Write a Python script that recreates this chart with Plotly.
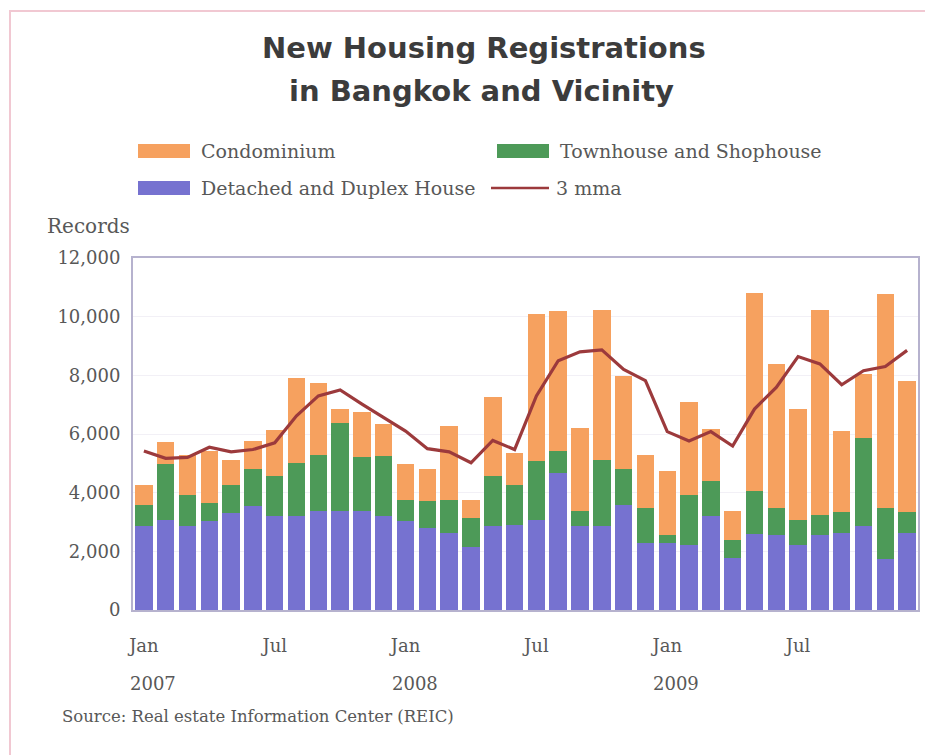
import plotly.graph_objects as go

# ---------------- data ----------------
months = [f"{m} {y}" for y in (2007, 2008, 2009)
          for m in ["Jan", "Feb", "Mar", "Apr", "May", "Jun",
                    "Jul", "Aug", "Sep", "Oct", "Nov", "Dec"]]

detached = [2850, 3070, 2850, 3020, 3300, 3530, 3190, 3190, 3380, 3380, 3380, 3190,
            3020, 2790, 2620, 2160, 2850, 2900, 3070, 4670, 2850, 2850, 3590, 2270,
            2270, 2220, 3190, 1780, 2580, 2560, 2220, 2560, 2620, 2850, 1740, 2620]

townhouse = [740, 1910, 1060, 630, 970, 1260, 1370, 1830, 1920, 3010, 1830, 2060,
             740, 910, 1140, 990, 1710, 1370, 2000, 750, 510, 2280, 1220, 1200,
             290, 1690, 1220, 610, 1470, 910, 850, 690, 720, 3020, 1730, 720]

condominium = [680, 750, 1390, 1770, 860, 970, 1570, 2890, 2430, 460, 1550, 1100,
               1220, 1110, 2510, 610, 2710, 1090, 5010, 4760, 2860, 5110, 3180, 1830,
               2190, 3190, 1750, 990, 6760, 4900, 3780, 6990, 2760, 2180, 7300, 4450]

mma3 = [5420, 5170, 5200, 5550, 5390, 5470, 5700, 6620, 7300, 7500, 7020, 6560,
        6100, 5500, 5390, 5020, 5780, 5470, 7300, 8500, 8800, 8870, 8200, 7820,
        6080, 5760, 6080, 5590, 6850, 7590, 8640, 8390, 7680, 8160, 8300, 8850]

tick_pos = [0, 6, 12, 18, 24, 30]
tick_text = ["Jan", "Jul", "Jan", "Jul", "Jan", "Jul"]
year_pos = [0, 12, 24]
year_text = ["2007", "2008", "2009"]

series_names = ["Condominium", "Townhouse and Shophouse", "Detached and Duplex House", "3 mma"]

# ---------------- style ----------------
C_ORANGE = "#F6A15F"
C_GREEN = "#4D9A58"
C_PURPLE = "#7672D0"
C_LINE = "#9C3A3C"
TXT = "#585858"
SERIF = "DejaVu Serif"
SANS = "DejaVu Sans"

OFF = 8  # page body margin
W, H = 933 - OFF, 755 - OFF
PLOT_L, PLOT_R, PLOT_T, PLOT_B = 133, 918, 258, 610  # in screenshot pixels
L, R, T, B = PLOT_L - OFF, 933 - PLOT_R, PLOT_T - OFF, 755 - PLOT_B
PW, PH = PLOT_R - PLOT_L, PLOT_B - PLOT_T


def px_x(px):
    return (px - PLOT_L) / PW


def px_y(py):
    return (PLOT_B - py) / PH


x = list(range(len(months)))

fig = go.Figure()
fig.add_trace(go.Bar(x=x, y=detached, name=series_names[2], marker_color=C_PURPLE,
                     marker_line_width=0, showlegend=False, customdata=months,
                     hovertemplate="%{customdata}: %{y:,}<extra>" + series_names[2] + "</extra>"))
fig.add_trace(go.Bar(x=x, y=townhouse, name=series_names[1], marker_color=C_GREEN,
                     marker_line_width=0, showlegend=False, customdata=months,
                     hovertemplate="%{customdata}: %{y:,}<extra>" + series_names[1] + "</extra>"))
fig.add_trace(go.Bar(x=x, y=condominium, name=series_names[0], marker_color=C_ORANGE,
                     marker_line_width=0, showlegend=False, customdata=months,
                     hovertemplate="%{customdata}: %{y:,}<extra>" + series_names[0] + "</extra>"))
fig.add_trace(go.Scatter(x=x, y=mma3, name=series_names[3], mode="lines",
                         line=dict(color=C_LINE, width=3.2), showlegend=False,
                         customdata=months,
                         hovertemplate="%{customdata}: %{y:,}<extra>3 mma</extra>"))

annotations = []
shapes = []

# title (two lines)
annotations.append(dict(text="<b>New Housing Registrations</b>", x=px_x(484), y=px_y(48),
                        xref="paper", yref="paper", xanchor="center", yanchor="middle",
                        showarrow=False, font=dict(family=SANS, size=29, color="#3c3c3c")))
annotations.append(dict(text="<b>in Bangkok and Vicinity</b>", x=px_x(481), y=px_y(91),
                        xref="paper", yref="paper", xanchor="center", yanchor="middle",
                        showarrow=False, font=dict(family=SANS, size=29, color="#3c3c3c")))

# manual legend
legend_items = [
    (series_names[0], "bar", C_ORANGE, 138, 151),
    (series_names[1], "bar", C_GREEN, 497, 151),
    (series_names[2], "bar", C_PURPLE, 138, 188),
    (series_names[3], "line", C_LINE, 497, 188),
]
for name, kind, col, lx, ly in legend_items:
    if kind == "bar":
        shapes.append(dict(type="rect", xref="paper", yref="paper",
                           x0=px_x(lx), x1=px_x(lx + 52), y0=px_y(ly - 7), y1=px_y(ly + 7),
                           fillcolor=col, line=dict(width=0)))
        tx = lx + 61
    else:
        shapes.append(dict(type="line", xref="paper", yref="paper",
                           x0=px_x(lx - 6), x1=px_x(lx + 52), y0=px_y(ly), y1=px_y(ly),
                           line=dict(color=col, width=2.5)))
        tx = lx + 57
    annotations.append(dict(text=name, x=px_x(tx), y=px_y(ly), xref="paper", yref="paper",
                            xanchor="left", yanchor="middle", showarrow=False,
                            font=dict(family=SERIF, size=19, color=TXT)))

# y-axis title
annotations.append(dict(text="Records", x=px_x(88), y=px_y(226), xref="paper", yref="paper",
                        xanchor="center", yanchor="middle", showarrow=False,
                        font=dict(family=SERIF, size=20, color=TXT)))

# year labels under month ticks
for p, t in zip(year_pos, year_text):
    annotations.append(dict(text=t, x=p, y=px_y(683), xref="x", yref="paper",
                            xanchor="center", yanchor="middle", showarrow=False,
                            xshift=9, font=dict(family=SERIF, size=18, color=TXT)))

# source
annotations.append(dict(text="Source: Real estate Information Center (REIC)", x=px_x(60),
                        y=px_y(716), xref="paper", yref="paper", xanchor="left",
                        yanchor="middle", showarrow=False,
                        font=dict(family=SERIF, size=16.5, color=TXT)))

# outer pinkish frame
shapes.append(dict(type="rect", xref="paper", yref="paper", x0=px_x(10), x1=px_x(927),
                   y0=px_y(800), y1=px_y(11), line=dict(color="#F1C8D2", width=2),
                   fillcolor="rgba(0,0,0,0)", layer="below"))

fig.update_layout(
    width=W, height=H,
    margin=dict(l=L, r=R, t=T, b=B, autoexpand=False),
    paper_bgcolor="white", plot_bgcolor="white",
    barmode="stack", bargap=0.2,
    showlegend=False,
    annotations=annotations, shapes=shapes,
    xaxis=dict(range=[-0.5, 35.5], tickvals=tick_pos, ticktext=tick_text,
               showgrid=False, zeroline=False, ticks="", ticklabelstandoff=18,
               tickfont=dict(family=SERIF, size=18, color=TXT), automargin=False,
               showline=True, linecolor="#B6B2CE", linewidth=2, mirror=True),
    yaxis=dict(range=[0, 12000], dtick=2000, tickformat=",", showgrid=True,
               gridcolor="#F2F0F6", gridwidth=1, zeroline=False, ticks="",
               ticklabelstandoff=7, automargin=False,
               tickfont=dict(family=SERIF, size=18, color=TXT),
               showline=True, linecolor="#B6B2CE", linewidth=2, mirror=True),
)

fig.write_html("out.html")
